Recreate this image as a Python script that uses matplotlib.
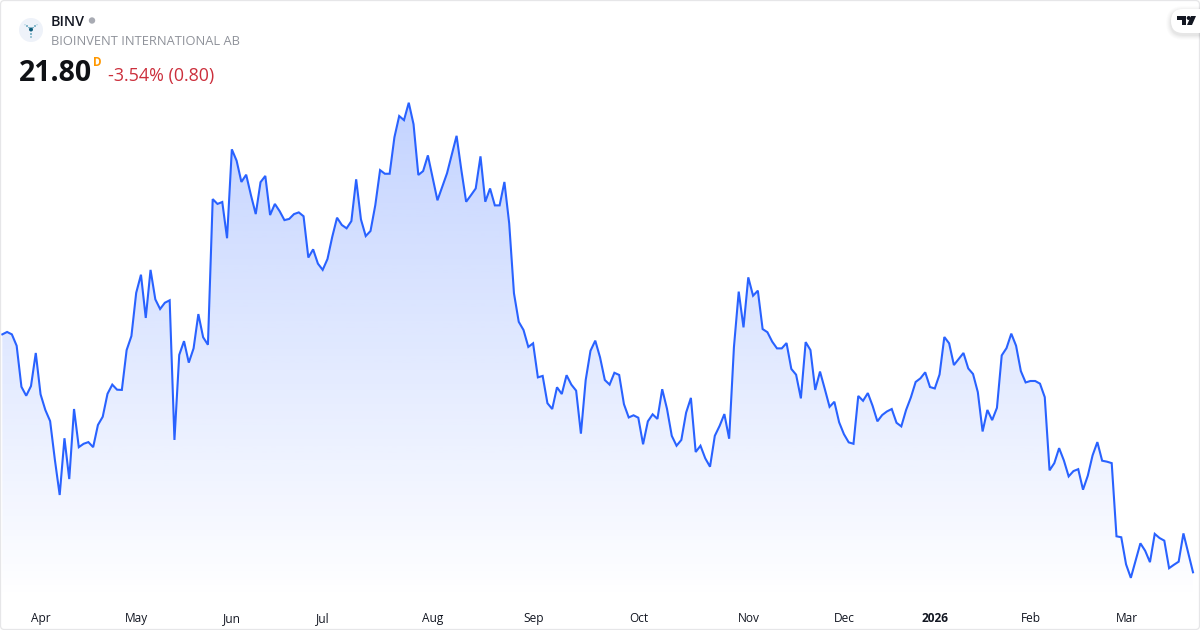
import numpy as np
import matplotlib
matplotlib.use("Agg")
import matplotlib.pyplot as plt
from matplotlib.patches import FancyBboxPatch, Circle, Polygon

plt.rcParams['font.family'] = ['Open Sans', 'DejaVu Sans']

# daily closes
closes = [
    31.65, 31.75, 31.65, 31.18, 29.48, 29.11, 29.51, 30.88, 29.17, 28.52, 28.06, 26.45,
    25.00, 27.35, 25.66, 28.56, 26.98, 27.12, 27.19, 26.98, 27.90, 28.24, 29.19, 29.57,
    29.36, 29.35, 31.00, 31.58, 33.37, 34.12, 32.33, 34.32, 33.10, 32.70, 32.96, 33.06,
    27.28, 30.80, 31.37, 30.48, 31.07, 32.49, 31.53, 31.22,
    37.25, 37.05, 37.13, 35.63, 39.31, 38.84, 37.96, 38.26, 37.41, 36.63, 37.95, 38.21,
    36.59, 37.05, 36.75, 36.38, 36.43, 36.63, 36.70, 36.54, 34.83, 35.17, 34.58, 34.32,
    34.77, 35.69, 36.48, 36.18, 36.04, 36.34, 38.07, 36.41, 35.72, 35.93, 37.00, 38.45,
    38.30, 38.30, 39.81, 40.69, 40.52, 41.24, 40.35, 38.25, 38.41, 39.06, 38.14, 37.20,
    37.76, 38.32, 39.10, 39.87, 38.45, 37.14, 37.41, 37.69, 39.02, 37.14, 37.69, 36.99,
    36.99, 37.96, 36.25, 33.35,
    32.17, 31.83, 31.13, 31.28, 29.87, 29.93, 28.80, 28.56, 29.46, 29.18, 29.96, 29.57,
    29.32, 27.54, 29.76, 30.97, 31.39, 30.70, 29.76, 29.57, 30.06, 29.97, 28.76, 28.21,
    28.30, 28.20, 27.10, 28.05, 28.34, 28.15, 29.38, 28.57, 27.45, 27.04, 27.28, 28.41,
    29.02, 26.78, 27.04, 26.52, 26.17, 27.45, 27.86, 28.35, 27.33, 31.12, 33.42, 31.94,
    34.01, 33.25, 33.46, 31.87, 31.74, 31.35, 31.07, 31.07, 31.29, 30.22, 29.98, 29.00,
    31.33, 31.00, 29.35, 30.11,
    29.39, 28.65, 28.86, 28.01, 27.52, 27.18, 27.12, 29.10, 28.90, 29.22, 28.69, 28.05,
    28.31, 28.46, 28.56, 27.99, 27.84, 28.52, 29.04, 29.68, 29.83, 30.08, 29.47, 29.41,
    29.99, 31.54, 31.28, 30.38, 30.63, 30.88, 30.24, 30.01, 29.26, 27.63, 28.52, 28.10,
    28.61, 30.78, 31.08, 31.68, 31.18, 30.13, 29.66, 29.72, 29.72, 29.61, 29.05, 26.02,
    26.32, 26.94, 26.43, 25.77, 25.99, 26.07, 25.22, 25.80, 26.64, 27.19, 26.42, 26.38,
    26.32, 23.29, 23.25, 22.13, 21.57, 22.28, 23.00, 22.69, 22.22, 23.39, 23.22, 23.11,
    21.97, 22.11, 22.24, 23.41, 22.60, 21.80,
]
month_labels = ['Apr', 'May', 'Jun', 'Jul', 'Aug', 'Sep', 'Oct', 'Nov', 'Dec', '2026', 'Feb', 'Mar']
month_starts = [8, 28, 48, 67, 90, 111, 133, 156, 176, 195, 215, 235]

WIDTH, HEIGHT = 1200, 630
LINE = '#2962FF'
TEXT = '#131722'

fig = plt.figure(figsize=(WIDTH / 100, HEIGHT / 100), dpi=100, facecolor='white')
ax = fig.add_axes([0, 0, 1, 1])

# first point sits at px 2.3, last at px 1193
x = np.arange(len(closes))
step = (1193 - 2.3) / (len(closes) - 1)
ax.set_xticks(np.array(month_starts) + 0.1)
ax.set_xticklabels(month_labels)
ax.set_yticks([])
for s in ax.spines.values():
    s.set_visible(False)
ax.tick_params(axis='x', direction='in', pad=-13, length=0, labelsize=8.6, labelcolor=TEXT)
for lab in ax.get_xticklabels():
    if lab.get_text() == '2026':
        lab.set_fontweight('bold')

# area below the line, faded downwards
base = 45.493 - 0.0414 * 600
top = max(closes)
area = ax.fill_between(x, closes, base, color='none', lw=0)
rgba = np.zeros((256, 1, 4))
rgba[:, :, :3] = matplotlib.colors.to_rgb(LINE)
rgba[:, :, 3] = np.linspace(0.28, 0.0, 256).reshape(-1, 1)
img = ax.imshow(rgba, extent=[x[0], x[-1], base, top], aspect='auto', origin='upper', zorder=1)
img.set_clip_path(area.get_paths()[0], transform=ax.transData)
ax.plot(x, closes, color=LINE, lw=1.5, solid_joinstyle='miter', zorder=2)
ax.set_xlim(-2.3 / step, (WIDTH - 2.3) / step)
ax.set_ylim(45.493 - 0.0414 * HEIGHT, 45.493)

# card, header and logos, in pixels
ov = fig.add_axes([0, 0, 1, 1], facecolor='none')
ov.set_xlim(0, WIDTH)
ov.set_ylim(HEIGHT, 0)
ov.axis('off')

ov.add_patch(FancyBboxPatch((0.5, 0.5), WIDTH - 1, HEIGHT - 1, boxstyle='round,pad=0,rounding_size=4',
                            fc='none', ec='#E6E6E8', lw=0.9))

ov.add_patch(Circle((31, 30), 12, fc='#EEF2F9', ec='none'))
for cx, cy, r, col in [(31, 29.5, 2.0, '#0F5E7C'), (31, 34, 0.8, '#1F7F9E'), (31, 37, 0.7, '#1F7F9E'),
                       (27, 26, 0.8, '#1F7F9E'), (35, 26, 0.8, '#1F7F9E'), (25, 24.8, 0.5, '#6FB4C8'),
                       (37, 24.8, 0.5, '#6FB4C8'), (29, 27.6, 0.6, '#1F7F9E'), (33, 27.6, 0.6, '#1F7F9E')]:
    ov.add_patch(Circle((cx, cy), r, fc=col, ec='none'))

ov.text(51, 22, 'BINV', fontsize=10.4, fontweight='semibold', color=TEXT, va='center', ha='left')
ov.add_patch(Circle((92, 20.5), 3.2, fc='#A8ABB3', ec='none'))
ov.text(51, 41.5, 'BIOINVENT INTERNATIONAL AB', fontsize=9.25, color='#8F929A', va='center', ha='left')
ov.text(19, 73.5, '21.80', fontsize=20.5, fontweight='bold', color='#0F1115', va='center', ha='left')
ov.text(93, 62, 'D', fontsize=8.5, fontweight='bold', color='#FF9800', va='center', ha='left')
ov.text(108, 76.5, '-3.54% (0.80)', fontsize=12.9, color='#CC2F3C', va='center', ha='left')

# tradingview badge, soft shadow under it
for grow, alpha in [(5, 0.012), (4, 0.015), (3, 0.018), (2, 0.022), (1, 0.026)]:
    ov.add_patch(FancyBboxPatch((1171 - grow, 9 - grow + 2), 40 + 2 * grow, 24 + 2 * grow,
                                boxstyle='round,pad=0,rounding_size=%d' % (12 + grow), fc='black', ec='none', alpha=alpha))
ov.add_patch(FancyBboxPatch((1171, 9), 40, 24, boxstyle='round,pad=0,rounding_size=12', fc='white', ec='none'))
ov.add_patch(Polygon([(1177, 16), (1186, 16), (1186, 25), (1182, 25), (1182, 20), (1177, 20)], fc='#131722', ec='none'))
ov.add_patch(Circle((1188.7, 18), 2, fc='#131722', ec='none'))
ov.add_patch(Polygon([(1191, 16), (1196, 16), (1192, 25), (1187, 25)], fc='#131722', ec='none'))

fig.savefig('out.png', dpi=100, facecolor='white')
